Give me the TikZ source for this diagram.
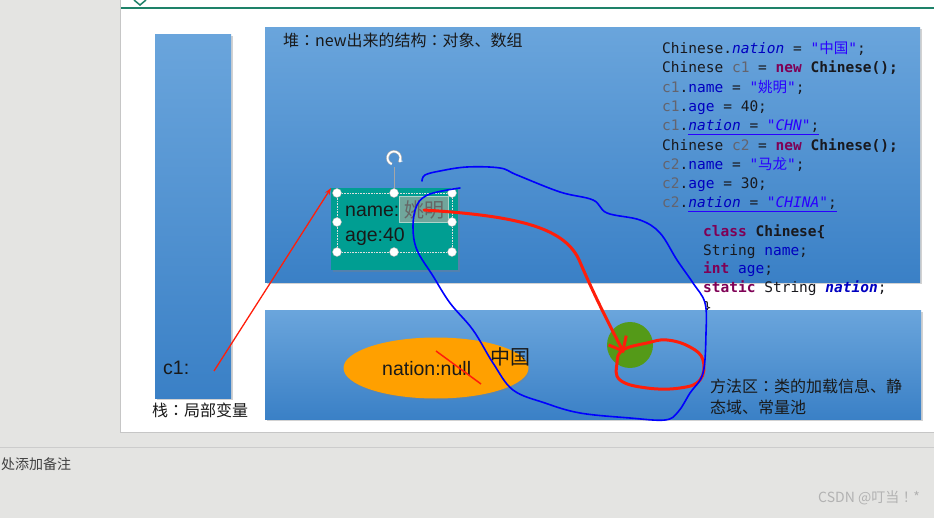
\documentclass[tikz,border=0pt]{standalone}
\usepackage{fontspec}
\setmainfont{Liberation Sans}
\setmonofont{DejaVu Sans Mono}
\newfontfamily\cjk{Noto Sans CJK SC}
\newfontfamily\cjkp{Noto Sans CJK TC}
\usepackage{tikz}
\usetikzlibrary{positioning,arrows.meta,shapes.geometric,shadows}
\definecolor{boxtop}{RGB}{106,165,220}
\definecolor{boxbot}{RGB}{58,128,198}
\definecolor{objteal}{RGB}{0,158,146}
\definecolor{nationorange}{RGB}{255,160,0}
\definecolor{dotgreen}{RGB}{84,154,24}
\definecolor{kwcol}{RGB}{127,0,85}
\definecolor{fldcol}{RGB}{0,0,192}
\definecolor{strcol}{RGB}{42,0,255}
\definecolor{varcol}{RGB}{100,100,110}
\definecolor{codetxt}{RGB}{25,25,30}
\definecolor{penred}{RGB}{255,30,10}
\definecolor{penblue}{RGB}{0,0,255}
\definecolor{panelgray}{RGB}{228,228,226}
\definecolor{slideline}{RGB}{30,130,105}
\newcommand{\ckw}[1]{{\bfseries\color{kwcol}#1}}
\newcommand{\cfld}[1]{{\color{fldcol}#1}}
\newcommand{\csf}[1]{{\color{fldcol}\itshape #1}}
\newcommand{\cstr}[1]{{\color{strcol}\itshape #1}}
\newcommand{\cvar}[1]{{\color{varcol}#1}}
\newcommand{\fwc}{{\cjkp ：}}
\tikzstyle{membox} = [
rectangle,
anchor=north west,
top color=boxtop,
bottom color=boxbot,
drop shadow={shadow xshift=1.5pt,shadow yshift=-1.5pt,opacity=0.35}
]
\tikzstyle{objbox} = [
rectangle,
anchor=north west,
fill=objteal,
minimum width=127,
minimum height=82,
drop shadow={shadow xshift=1.5pt,shadow yshift=-1.5pt,opacity=0.35}
]
\tikzstyle{yaobox} = [
rectangle,
anchor=west,
fill={rgb,255:red,112;green,166;blue,156},
draw={rgb,255:red,172;green,212;blue,202},
line width=1pt,
inner sep=1,
minimum width=49,
minimum height=26,
text=black!60,
font=\fontsize{20}{22}\selectfont\cjk
]
\tikzstyle{code} = [
anchor=base west,
inner sep=0,
text=codetxt,
font=\fontsize{14.5}{17}\selectfont\ttfamily
]
\tikzstyle{lbl} = [
anchor=base west,
inner sep=0,
text=black!90,
font=\fontsize{19.5}{22}\selectfont
]
\tikzstyle{cnlbl} = [
anchor=base west,
inner sep=0,
text=black!90,
font=\fontsize{16}{19}\selectfont\cjk
]
\tikzstyle{handle} = [
circle,
fill=white,
draw=gray!60,
minimum size=9,
inner sep=0
]
\tikzstyle{redpen} = [
draw=penred,
line width=3pt,
line cap=round,
line join=round
]
\tikzstyle{bluepen} = [
draw=penblue,
line width=1.6pt,
line cap=round,
line join=round
]
\tikzstyle{arrow} = [
draw=penred,
line width=1.3pt,
-{Stealth[length=7pt,width=5pt]}
]
\begin{document}
\begin{tikzpicture}[x=1pt,y=-1pt]
\useasboundingbox (0,0) rectangle (934,518);
					%Window
					\fill[panelgray] (0,0) rectangle (934,518);
					\fill[white] (121,0) rectangle (934,432);
					\draw[gray!45] (120.5,0) -- (120.5,432.5) -- (934,432.5);
					\draw[gray!40] (0,447) -- (934,447);
					\draw[slideline,line width=2.5pt] (121,8) -- (934,8);
					\draw[slideline,line width=1.5pt] (134,0) -- (140,5) -- (146,0);
					%Nodes
					\node[membox,minimum width=76,minimum height=364] (stack) at (155,34) {};
					\node[membox,minimum width=655,minimum height=255] (heap) at (265,27) {};
					\node[cnlbl] (heaplbl) at (283,47) {堆\fwc new出来的结构\fwc 对象、数组};
					\node[code] (l1) at (662,54) {Chinese.\csf{nation} = \cstr{"{\cjk 中国}"};};
					\node[code] (l2) at (662,73) {Chinese \cvar{c1} = \ckw{new} \textbf{Chinese();}};
					\node[code] (l3) at (662,93) {\cvar{c1}.\cfld{name} = \cstr{"{\cjk 姚明}"};};
					\node[code] (l4) at (662,112) {\cvar{c1}.\cfld{age} = 40;};
					\node[code] (l5) at (662,131) {\cvar{c1}.{\color{strcol}\underline{\csf{nation} {\color{codetxt}=} \cstr{"CHN"}{\color{codetxt};}}}};
					\node[code] (l6) at (662,151) {Chinese \cvar{c2} = \ckw{new} \textbf{Chinese();}};
					\node[code] (l7) at (662,170) {\cvar{c2}.\cfld{name} = \cstr{"{\cjk 马龙}"};};
					\node[code] (l8) at (662,189) {\cvar{c2}.\cfld{age} = 30;};
					\node[code] (l9) at (662,208) {\cvar{c2}.{\color{strcol}\underline{\csf{nation} {\color{codetxt}=} \cstr{"CHINA"}{\color{codetxt};}}}};
					\node[code] (cls1) at (703,237) {\ckw{class} \textbf{Chinese\{}};
					\node[code] (cls2) at (703,256) {String \cfld{name};};
					\node[code] (cls3) at (703,274) {\ckw{int} \cfld{age};};
					\node[code] (cls4) at (703,293) {\ckw{static} String {\bfseries\csf{nation}};};
					\node[code] (cls5) at (703,313) {\}};
					\node[membox,minimum width=656,minimum height=109] (method) at ([yshift=-28pt]heap.south west) {};
					\node[cnlbl] (methlbl1) at (710,392) {方法区\fwc 类的加载信息、静};
					\node[cnlbl] (methlbl2) at (710,413) {态域、常量池};
					\node[lbl] (c1) at (163,374) {c1:};
					\node[cnlbl] (stacklbl) at (152,416) {栈\fwc 局部变量};
					\node[ellipse,fill=nationorange,minimum width=185,minimum height=61,inner sep=0,
					drop shadow={shadow xshift=1pt,shadow yshift=-1.5pt,opacity=0.3}] (nation) at (436,368) {};
					\node[lbl] (nnull) at (382,375) {nation:null};
					\node[lbl,font=\fontsize{20}{22}\selectfont\cjk] (zhongguo) at (490,365) {中国};
					\node[circle,fill=dotgreen,minimum size=46,inner sep=0] (dot) at (630,345) {};
					\node[objbox] (obj) at (331,188) {};
					\node[lbl] (fname) at (345,217) {name:};
					\node[yaobox] (yao) at (399,210) {姚明};
					\node[lbl] (fage) at (345,242) {age:40};
					%Selection
					\draw[white!75!gray,densely dotted,line width=0.6pt] (337,193) rectangle (452,252);
					\draw[gray!70,line width=0.8pt] (394,167) -- (394,193);
					\draw[gray!60,line width=2.8pt] (394,158) ++(40:6.5) arc (40:-250:6.5);
					\draw[white,line width=1.6pt,-{Stealth[length=3.5pt,width=5pt]}] (394,158) ++(-250:6.5) arc (-250:40:6.5);
					\node[handle] (h1) at (337,193) {};
					\node[handle] (h2) at (394,193) {};
					\node[handle] (h3) at (452,193) {};
					\node[handle] (h4) at (337,222) {};
					\node[handle] (h5) at (452,222) {};
					\node[handle] (h6) at (337,252) {};
					\node[handle] (h7) at (394,252) {};
					\node[handle] (h8) at (452,252) {};
					%Pen
					\coordinate (c1ptr) at (214,371);
					\coordinate (tip) at (624,353);
					\draw[arrow] (c1ptr) -- (obj.north west);
					\draw[penred,line width=1.5pt] (436,351) -- (481,384);
					\draw[redpen,-{Straight Barb[length=12pt,width=20pt]}] (yao.center) .. controls (520,216) and (566,228) .. (580,262) .. controls (594,295) and (612,330) .. (tip);
					\draw[redpen] plot[smooth cycle,tension=0.7] coordinates {(623,350) (647,343) (667,340) (690,347) (703,360) (700,380) (680,388) (647,388) (620,380) (617,363)};
					\draw[bluepen] plot[smooth,tension=0.6] coordinates {(422,181) (425,175) (440,171) (467,167) (500,168) (517,175) (560,192) (593,200) (607,213) (640,220) (660,233) (677,260) (693,283) (705,303) (706,333) (703,373) (690,393) (678,412) (665,420) (630,418) (580,413) (545,403) (513,390) (493,363) (473,330) (450,303) (433,276) (417,250) (413,227) (417,205) (430,194) (460,188)};
					%Notes
					\node[anchor=west,inner sep=0,text=black!75,font=\fontsize{14}{16}\selectfont\cjk] (note) at (1,464) {处添加备注};
					\node[anchor=east,inner sep=0,text=gray!60,font=\fontsize{14}{16}\selectfont\cjk] (wm) at (920,498) {CSDN @叮当{\cjkp ！}*};
				\end{tikzpicture}
\end{document}
